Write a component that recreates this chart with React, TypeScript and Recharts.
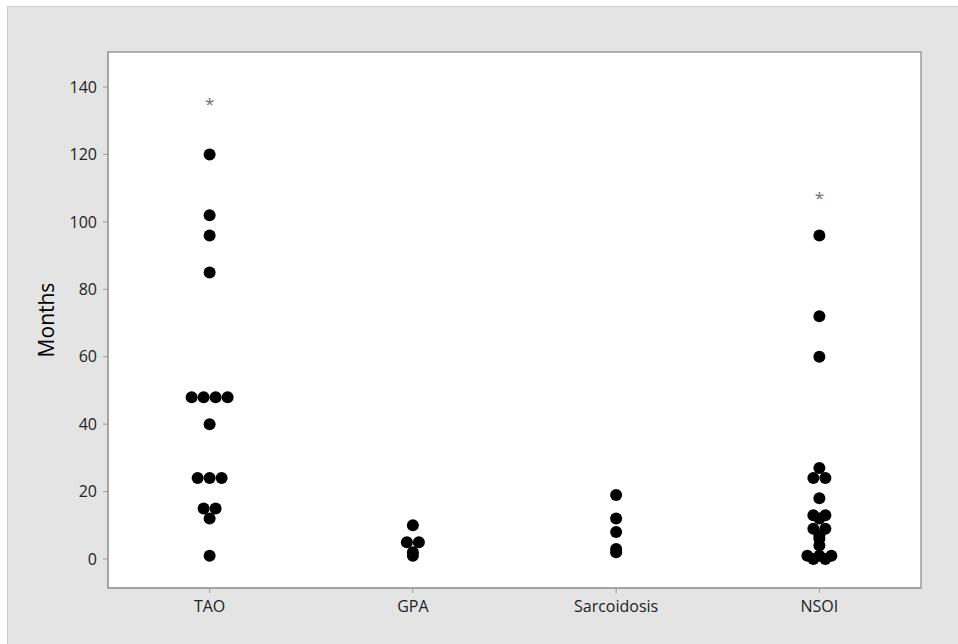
import { ReferenceArea, Scatter, ScatterChart, XAxis, YAxis } from 'recharts';

const categories = ['TAO', 'GPA', 'Sarcoidosis', 'NSOI'];

const taoMonths = [120, 102, 96, 85, 48, 48, 48, 48, 40, 24, 24, 24, 15, 15, 12, 1];
const gpaMonths = [10, 5, 5, 2, 1];
const sarcoidosisMonths = [19, 12, 8, 3, 2];
const nsoiMonths = [96, 72, 60, 27, 24, 24, 18, 13, 13, 12, 9, 9, 7, 6, 4, 1, 1, 1, 0, 0];

// values flagged with an asterisk above each group
const starCategories = ['TAO', 'NSOI'];
const starMonths = [136, 108];

const yTicks = [0, 20, 40, 60, 80, 100, 120, 140];

const W = 958;
const H = 644;
const Y_DOMAIN: [number, number] = [-8.6, 150.4];
const X_DOMAIN: [number, number] = [-0.5, 3.5];
// horizontal distance between tied dots, in category units (~12px)
const DOT_STEP = 0.059;

type Pt = { x: number; y: number };

// tied values sit side by side, centred on the category
function spreadTies(values: number[], idx: number): Pt[] {
  const counts = new Map<number, number>();
  values.forEach((v) => counts.set(v, (counts.get(v) ?? 0) + 1));
  const seen = new Map<number, number>();
  return values.map((v) => {
    const n = counts.get(v) ?? 1;
    const i = seen.get(v) ?? 0;
    seen.set(v, i + 1);
    return { x: idx + (i - (n - 1) / 2) * DOT_STEP, y: v };
  });
}

const dots: Pt[] = [
  ...spreadTies(taoMonths, 0),
  ...spreadTies(gpaMonths, 1),
  ...spreadTies(sarcoidosisMonths, 2),
  ...spreadTies(nsoiMonths, 3),
];

const stars: Pt[] = starMonths.map((m, i) => ({ x: categories.indexOf(starCategories[i]), y: m }));

const FONT = '"Open Sans", "Noto Sans", sans-serif';

const Dot = (props: any) => <circle cx={props.cx} cy={props.cy} r={6} fill="#000" />;

const Star = (props: any) => (
  <text x={props.cx} y={props.cy + 9} textAnchor="middle" fontSize={17} fill="#6e6e6e" fontFamily={FONT}>
    *
  </text>
);

const MonthsLabel = () => (
  <text
    x={46}
    y={320}
    transform="rotate(-90, 46, 320)"
    textAnchor="middle"
    dominantBaseline="central"
    fontSize={21}
    fill="#000"
    fontFamily={FONT}
  >
    Months
  </text>
);

export default function App() {
  return (
    <div style={{ position: 'relative', width: W, height: H, background: '#fff', overflow: 'hidden' }}>
      <style>{'body{margin:0}'}</style>
      <div
        style={{
          position: 'absolute',
          left: 7,
          top: 6,
          width: W - 7,
          height: H - 6,
          background: '#e4e4e4',
          borderTop: '1px solid #cdcdcd',
          borderLeft: '1px solid #cdcdcd',
          boxSizing: 'border-box',
        }}
      />
      <div style={{ position: 'absolute', left: 0, top: 0 }}>
        <ScatterChart width={W} height={H} margin={{ top: 52, right: 37, left: 0, bottom: 0 }}>
          <XAxis
            type="number"
            dataKey="x"
            domain={X_DOMAIN}
            ticks={[0, 1, 2, 3]}
            tickFormatter={(v: number) => categories[v] ?? ''}
            allowDataOverflow
            height={56}
            tickSize={5}
            tickMargin={8}
            stroke="#9a9a9a"
            tick={{ fontSize: 16, fill: '#222', fontFamily: FONT }}
          />
          <YAxis
            type="number"
            dataKey="y"
            domain={Y_DOMAIN}
            ticks={yTicks}
            allowDataOverflow
            width={108}
            tickSize={5}
            tickMargin={6}
            stroke="#9a9a9a"
            tick={{ fontSize: 16, fill: '#222', fontFamily: FONT }}
            label={{ content: () => <MonthsLabel /> }}
          />
          <ReferenceArea
            x1={X_DOMAIN[0]}
            x2={X_DOMAIN[1]}
            y1={Y_DOMAIN[0]}
            y2={Y_DOMAIN[1]}
            fill="#fff"
            fillOpacity={1}
            stroke="#9a9a9a"
            strokeWidth={1.5}
          />
          <Scatter data={dots} shape={Dot} isAnimationActive={false} />
          <Scatter data={stars} shape={Star} isAnimationActive={false} />
        </ScatterChart>
      </div>
    </div>
  );
}
